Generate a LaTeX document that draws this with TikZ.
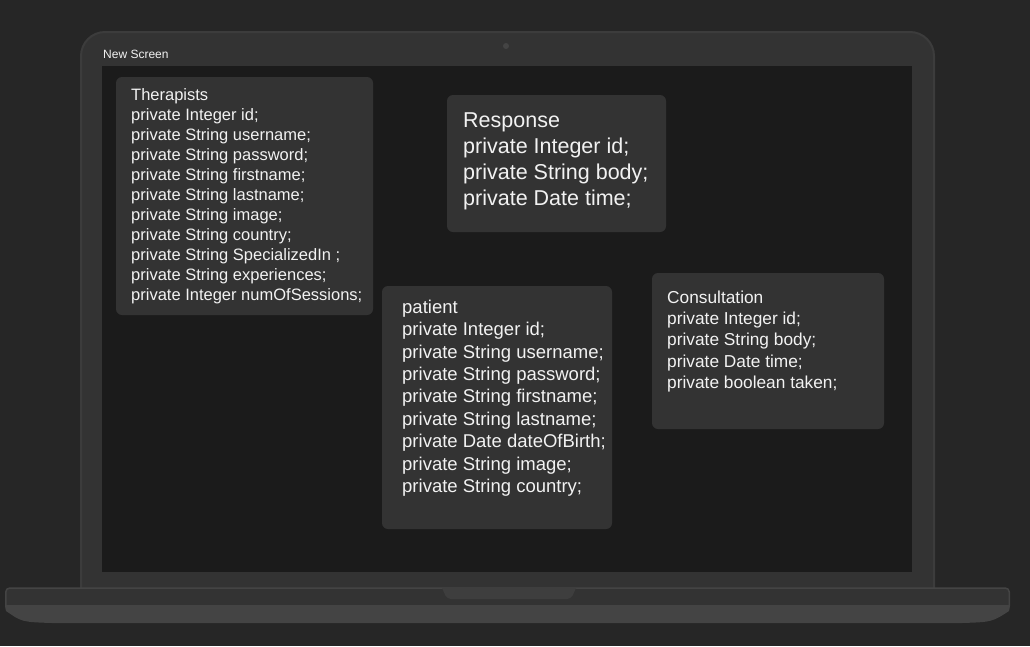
\documentclass[tikz,border=0pt]{standalone}
\usepackage{fontspec}
\setmainfont{Liberation Sans}
\usepackage{xcolor}
\usetikzlibrary{positioning}
\definecolor{bgc}{HTML}{262626}
\definecolor{lidc}{HTML}{333333}
\definecolor{rimc}{HTML}{3C3C3C}
\definecolor{scrc}{HTML}{1B1B1B}
\definecolor{cardc}{HTML}{333333}
\definecolor{lowc}{HTML}{444444}
\definecolor{notchc}{HTML}{3E3E3E}
\definecolor{txtc}{HTML}{F2F2F2}

\begin{document}
\begin{tikzpicture}[x=1pt,y=-1pt,
card/.style={fill=cardc,rounded corners=6pt},
txt/.style={text=txtc,align=left,anchor=base west,inner sep=0pt}]
\useasboundingbox[fill=bgc](0,0) rectangle (1030,646);
% laptop
\draw[fill=lidc,draw=rimc,line width=2pt,rounded corners=24pt](81,589)--(81,32)--(934,32)--(934,589);
\fill[scrc](102,66) rectangle (912,572);
\fill[lowc](506,46) circle (3pt);
\node[txt,font=\fontsize{12}{14}\selectfont] (title) at (103,58.5) {New Screen};
\fill[lowc](5,606)--(1010,606)--(1009,611) .. controls (992,622) .. (962,623)
--(52,623) .. controls (22,622) .. (6,611)--cycle;
\draw[fill=lidc,draw=lowc,line width=1.5pt,rounded corners=4pt](5.75,606)--(5.75,588)--(1009.25,588)--(1009.25,606);
\draw[lowc,line width=1.5pt](5,606)--(1010,606);
\fill[notchc,rounded corners=4pt](442,588)--(447,599)--(571,599)--(576,588);
% tables (node base = last line)
\path[card](116,77) rectangle (373,315);
\node[txt,font=\fontsize{16.5}{20}\selectfont] (therapists) at (131,300) {Therapists\\
private Integer id;\\
private String username;\\
private String password;\\
private String firstname;\\
private String lastname;\\
private String image;\\
private String country;\\
private String SpecializedIn ;\\
private String experiences;\\
private Integer numOfSessions;};
\path[card](447,95) rectangle (666,232);
\node[txt,font=\fontsize{21.5}{26}\selectfont] (response) at (463,205) {Response\\
private Integer id;\\
private String body;\\
private Date time;};
\path[card](382,286) rectangle (612,529);
\node[txt,font=\fontsize{18.5}{22.4}\selectfont] (patient) at (402,492.5) {patient\\
private Integer id;\\
private String username;\\
private String password;\\
private String firstname;\\
private String lastname;\\
private Date dateOfBirth;\\
private String image;\\
private String country;};
\path[card](652,273) rectangle (884,429);
\node[txt,font=\fontsize{17.3}{21.25}\selectfont] (consultation) at (667,388.3) {Consultation\\
private Integer id;\\
private String body;\\
private Date time;\\
private boolean taken;};
\end{tikzpicture}
\end{document}
